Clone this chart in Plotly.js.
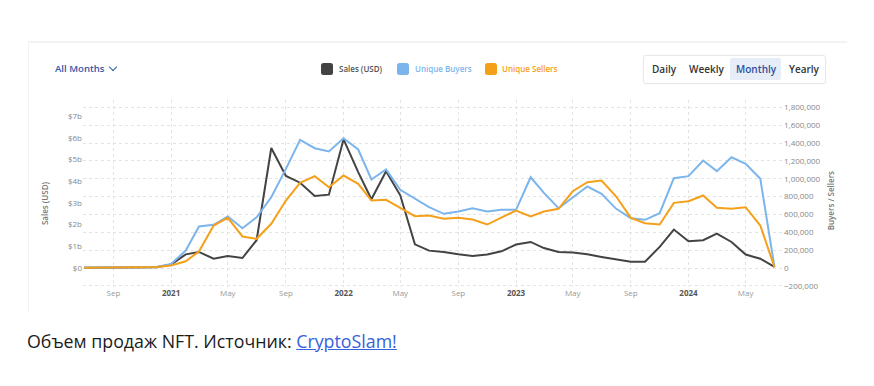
<!DOCTYPE html>
<html>
<head>
<meta charset="utf-8">
<script src="https://cdn.plot.ly/plotly-3.0.1.min.js"></script>
<style>
  html, body { margin:0; padding:0; background:#fff; width:874px; height:386px; overflow:hidden; font-family:"Open Sans", sans-serif; }
  #wrap { position:relative; width:874px; height:386px; }
  #chart { position:absolute; left:0; top:0; width:874px; height:386px; }
  .card-top { position:absolute; left:28px; top:41px; width:819px; height:2px; background:#f2f3f5; }
  .card-left { position:absolute; left:28px; top:42px; width:1px; height:270px; background:#f3f3f3; }
  .allm { position:absolute; left:55px; top:62px; font-size:9.6px; font-weight:600; color:#3559a6; white-space:nowrap; }
  .chev { position:absolute; left:110px; top:64px; width:5px; height:5px; border-right:1.6px solid #3559a6; border-bottom:1.6px solid #3559a6; transform:rotate(45deg); }
  .leg { position:absolute; top:63px; height:13px; }
  .sq { position:absolute; width:12px; height:12px; border-radius:2.5px; top:0; }
  .lt { position:absolute; top:-1px; font-size:8px; font-weight:600; white-space:nowrap; line-height:14px; }
  .btns { position:absolute; left:643px; top:55px; width:181px; height:27px; border:1px solid #e6e8ec; border-radius:3px; box-shadow:0 0 2px rgba(0,0,0,0.05); }
  .btn { position:absolute; top:0; font-size:10px; font-weight:600; color:#333; line-height:27px; white-space:nowrap; }
  .active { position:absolute; left:86px; top:2px; width:51px; height:22px; background:#e7edf7; border-radius:2px; }
  .caption { position:absolute; left:27px; top:329px; font-size:17.8px; color:#1c1c1c; white-space:nowrap; }
  .caption a { color:#3461e0; text-decoration:underline; }
</style>
</head>
<body>
<div id="wrap">
  <div id="chart"></div>
  <div class="card-top"></div>
  <div class="card-left"></div>
  <div class="allm">All Months</div>
  <div class="chev"></div>
  <div class="leg" style="left:321px;"><div class="sq" style="background:#434343;"></div><div class="lt" style="left:18px;color:#555;">Sales (USD)</div></div>
  <div class="leg" style="left:397px;"><div class="sq" style="background:#7cb5ec;"></div><div class="lt" style="left:18px;color:#7cb5ec;">Unique Buyers</div></div>
  <div class="leg" style="left:485px;"><div class="sq" style="background:#f5a01a;"></div><div class="lt" style="left:17px;color:#f5a01a;">Unique Sellers</div></div>
  <div class="btns">
    <div class="active"></div>
    <div class="btn" style="left:8px;">Daily</div>
    <div class="btn" style="left:45px;">Weekly</div>
    <div class="btn" style="left:92px;color:#2c4f9e;">Monthly</div>
    <div class="btn" style="left:145px;">Yearly</div>
  </div>
  <div class="caption">Объем продаж NFT. Источник: <a href="#">CryptoSlam!</a></div>
</div>
<script>
// Monthly points, Jul 2020 .. Jul 2024
const months = [
  '2020-07-01','2020-08-01','2020-09-01','2020-10-01','2020-11-01','2020-12-01',
  '2021-01-01','2021-02-01','2021-03-01','2021-04-01','2021-05-01','2021-06-01',
  '2021-07-01','2021-08-01','2021-09-01','2021-10-01','2021-11-01','2021-12-01',
  '2022-01-01','2022-02-01','2022-03-01','2022-04-01','2022-05-01','2022-06-01',
  '2022-07-01','2022-08-01','2022-09-01','2022-10-01','2022-11-01','2022-12-01',
  '2023-01-01','2023-02-01','2023-03-01','2023-04-01','2023-05-01','2023-06-01',
  '2023-07-01','2023-08-01','2023-09-01','2023-10-01','2023-11-01','2023-12-01',
  '2024-01-01','2024-02-01','2024-03-01','2024-04-01','2024-05-01','2024-06-01',
  '2024-07-01'
];
// Sales in billions USD
const salesUSD = [
  0.01,0.01,0.02,0.02,0.02,0.03,
  0.16,0.63,0.74,0.43,0.55,0.46,
  1.28,5.53,4.24,3.93,3.32,3.38,
  5.93,4.42,3.17,4.46,3.35,1.09,
  0.80,0.74,0.63,0.55,0.62,0.77,
  1.08,1.20,0.92,0.74,0.71,0.63,
  0.51,0.41,0.29,0.29,0.97,1.77,
  1.23,1.28,1.58,1.20,0.62,0.43,
  0.05
];
const uniqueBuyers = [
  5000,5000,6000,7000,8000,12000,
  45000,196000,465000,484000,577000,446000,
  569000,793000,1111000,1436000,1342000,1305000,
  1454000,1328000,992000,1104000,876000,775000,
  681000,607000,633000,670000,633000,652000,
  652000,1017000,842000,670000,793000,913000,
  831000,663000,558000,540000,614000,1006000,
  1029000,1204000,1085000,1241000,1167000,999000,
  9000
];
const uniqueSellers = [
  4000,4000,5000,6000,7000,10000,
  28000,76000,185000,476000,562000,353000,
  327000,495000,756000,954000,1029000,905000,
  1036000,943000,756000,764000,674000,580000,
  588000,551000,562000,543000,487000,562000,
  644000,577000,633000,663000,860000,961000,
  980000,801000,562000,502000,487000,730000,
  748000,812000,674000,663000,681000,476000,
  9000
];
const xTickVals = ['2020-09-01','2021-01-01','2021-05-01','2021-09-01','2022-01-01','2022-05-01',
  '2022-09-01','2023-01-01','2023-05-01','2023-09-01','2024-01-01','2024-05-01'];
const xTickText = ['Sep','<span style="color:#555"><b>2021</b></span>','May','Sep','<span style="color:#555"><b>2022</b></span>','May',
  'Sep','<span style="color:#555"><b>2023</b></span>','May','Sep','<span style="color:#555"><b>2024</b></span>','May'];
const leftTickVals = [0,1,2,3,4,5,6,7];
const leftTickText = ['$0','$1b','$2b','$3b','$4b','$5b','$6b','$7b'];
const rightTickVals = [-200000,0,200000,400000,600000,800000,1000000,1200000,1400000,1600000,1800000];

const traces = [
  {x: months, y: salesUSD, name: 'Sales (USD)', type: 'scatter', mode: 'lines',
   line: {color: '#434343', width: 2}, yaxis: 'y'},
  {x: months, y: uniqueBuyers, name: 'Unique Buyers', type: 'scatter', mode: 'lines',
   line: {color: '#7cb5ec', width: 2}, yaxis: 'y2'},
  {x: months, y: uniqueSellers, name: 'Unique Sellers', type: 'scatter', mode: 'lines',
   line: {color: '#f5a01a', width: 2}, yaxis: 'y2'}
];

const layout = {
  width: 874, height: 386,
  margin: {l: 83, r: 91, t: 100, b: 99},
  paper_bgcolor: 'rgba(0,0,0,0)', plot_bgcolor: 'rgba(0,0,0,0)',
  showlegend: false,
  font: {family: '"Open Sans", sans-serif', size: 8, color: '#888'},
  xaxis: {
    type: 'date', range: ['2020-06-28 14:00', '2024-07-19'],
    tickvals: xTickVals, ticktext: xTickText,
    showgrid: true, gridcolor: '#e3e3e3', griddash: 'dot', gridwidth: 1,
    zeroline: false, showline: false, ticks: '',
    tickfont: {size: 8, color: '#999'}
  },
  yaxis: {
    range: [-0.8756, 7.742], tickvals: leftTickVals, ticktext: leftTickText,
    showgrid: false, zeroline: false, showline: false, ticks: '',
    tickfont: {size: 8, color: '#888'}
  },
  yaxis2: {
    overlaying: 'y', side: 'right',
    range: [-212885, 1882353], tickvals: rightTickVals, tickformat: ',',
    showgrid: true, gridcolor: '#e3e3e3', griddash: 'dot', gridwidth: 1,
    zeroline: false, showline: false, ticks: '',
    tickfont: {size: 8, color: '#888'}
  },
  annotations: [
    {text: 'Sales (USD)', xref: 'paper', yref: 'paper', x: -0.054, y: 0.45,
     xanchor: 'center', yanchor: 'middle', textangle: -90, showarrow: false,
     font: {size: 8, color: '#777', weight: 600}},
    {text: 'Buyers / Sellers', xref: 'paper', yref: 'paper', x: 1.069, y: 0.46,
     xanchor: 'center', yanchor: 'middle', textangle: -90, showarrow: false,
     font: {size: 8, color: '#777', weight: 600}}
  ]
};

Plotly.newPlot('chart', traces, layout, {staticPlot: true, displayModeBar: false});
</script>
</body>
</html>
